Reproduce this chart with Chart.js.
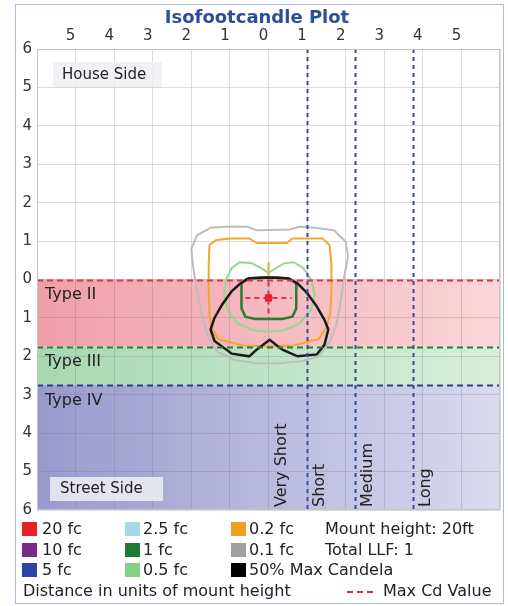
<!DOCTYPE html>
<html>
<head>
<meta charset="utf-8">
<title>Isofootcandle Plot</title>
<script src="https://cdn.jsdelivr.net/npm/chart.js@4/dist/chart.umd.min.js"></script>
<style>
  html, body { margin: 0; padding: 0; background: #fff; }
  #wrap { width: 508px; height: 606px; }
</style>
</head>
<body>
<div id="wrap"><canvas id="isoChart" width="508" height="606"></canvas></div>
<script>
// axis ticks, in mounting heights (house side negative, street side positive)
const tickValues = [-6, -5, -4, -3, -2, -1, 0, 1, 2, 3, 4, 5, 6];

// isofootcandle contours [x, y]
const fc01 = [[-0.3,-1.28],[-0.55,-1.37],[-1.0,-1.38],[-1.5,-1.35],[-1.85,-1.15],[-2.0,-0.8],[-1.95,-0.3],[-1.87,0.2],[-1.75,0.8],[-1.65,1.2],[-1.55,1.55],[-1.3,1.9],[-0.85,2.1],[-0.3,2.18],[0.3,2.18],[0.9,2.12],[1.3,2.0],[1.6,1.6],[1.75,1.2],[1.85,0.7],[1.95,0.0],[2.06,-0.6],[2.0,-0.98],[1.7,-1.28],[1.2,-1.35],[0.8,-1.37],[0.55,-1.3],[-0.3,-1.28]];
const fc02 = [[-0.3,-0.95],[-0.5,-1.07],[-1.0,-1.07],[-1.35,-1.03],[-1.53,-0.9],[-1.55,-0.4],[-1.55,0.3],[-1.53,0.9],[-1.48,1.25],[-1.3,1.55],[-0.65,1.72],[0,1.74],[0.65,1.72],[1.3,1.55],[1.5,1.25],[1.6,0.9],[1.63,0.3],[1.63,-0.4],[1.58,-0.9],[1.4,-1.07],[0.62,-1.07],[0.47,-0.95],[-0.3,-0.95]];
const fc05 = [[0,-0.17],[-0.2,-0.3],[-0.45,-0.43],[-0.75,-0.45],[-0.95,-0.3],[-1.1,0.0],[-1.15,0.4],[-1.05,0.8],[-0.8,1.15],[-0.4,1.32],[0,1.36],[0.4,1.32],[0.8,1.15],[1.1,0.8],[1.2,0.4],[1.1,0.0],[0.9,-0.3],[0.65,-0.45],[0.4,-0.42],[0.2,-0.3],[0,-0.17]];
const fc1 = [[-0.7,0.1],[-0.55,-0.02],[-0.2,-0.05],[0.2,-0.05],[0.55,-0.02],[0.72,0.1],[0.72,0.75],[0.62,0.97],[0.35,1.03],[-0.35,1.03],[-0.6,0.97],[-0.7,0.75],[-0.7,0.1]];
const fc25 = [[-0.04,0.2],[-0.04,0.35]];
const fc02Stem = [[0,-0.45],[0,0]];
const halfMaxCd = [[0,-0.05],[0.5,-0.03],[0.75,0.1],[1.0,0.35],[1.25,0.7],[1.45,1.05],[1.55,1.3],[1.45,1.7],[1.25,1.95],[0.75,2.0],[0.35,1.82],[0.03,1.57],[-0.3,1.82],[-0.5,2.0],[-0.95,1.93],[-1.4,1.6],[-1.5,1.3],[-1.4,1.0],[-1.2,0.65],[-0.95,0.3],[-0.7,0.08],[-0.5,-0.03],[0,-0.05]];

// max candela location
const maxCdPoint = [[0, 0.48]];
const maxCdH = [[-0.6,0.48],[0.6,0.48]];
const maxCdV = [[0,0.05],[0,1.0]];

// lateral types (street side bands)
const typeNames = ['Type II', 'Type III', 'Type IV'];
const typeFrom = [0, 1.75, 2.75];
const typeTo = [1.75, 2.75, 6];

// throw classes
const throwBounds = [1.0, 2.25, 3.75];
const throwNames = ['Very Short', 'Short', 'Medium', 'Long'];
const throwLabelAt = [0, 1.0, 2.25, 3.75];

// legend
const legendNames = ['20 fc', '10 fc', '5 fc', '2.5 fc', '1 fc', '0.5 fc', '0.2 fc', '0.1 fc', '50% Max Candela'];
const legendColors = ['#e8202a', '#7b2a8a', '#2a44a8', '#a8d8e8', '#1e7a32', '#84d084', '#f0a020', '#a0a0a0', '#000000'];

const FONT = "'DejaVu Sans', sans-serif";
const bandColors = [['#f09ea8', '#fad6d8'], ['#a7d8b0', '#d8efdb'], ['#9999ce', '#dadaef']];
const boundColors = ['#d83a48', '#2a7a3a', '#333d8a'];

const pts = arr => arr.map(p => ({ x: p[0], y: p[1] }));
const line = (arr, color, width, dash) => ({
    data: pts(arr), showLine: true, borderColor: color, borderWidth: width,
    borderDash: dash || [], pointRadius: 0, fill: false, tension: 0
});

const overlay = {
    id: 'overlay',
    beforeDraw(chart) {
        const c = chart.ctx, a = chart.chartArea, ys = chart.scales.y;
        c.save();
        c.fillStyle = '#fff';
        c.fillRect(0, 0, chart.width, chart.height);
        // street side bands
        typeNames.forEach((t, i) => {
            const y1 = ys.getPixelForValue(typeFrom[i]);
            const y2 = ys.getPixelForValue(typeTo[i]);
            const g = c.createLinearGradient(a.left, 0, a.right, 0);
            g.addColorStop(0, bandColors[i][0]);
            g.addColorStop(1, bandColors[i][1]);
            c.fillStyle = g;
            c.fillRect(a.left, y1, a.right - a.left, y2 - y1);
        });
        c.restore();
    },
    afterDatasetsDraw(chart) {
        const c = chart.ctx, a = chart.chartArea, xs = chart.scales.x, ys = chart.scales.y;
        c.save();
        c.lineWidth = 2;
        // type boundaries
        c.setLineDash([6, 4]);
        typeFrom.forEach((v, i) => {
            const y = Math.round(ys.getPixelForValue(v)) + 0.5;
            c.strokeStyle = boundColors[i];
            c.beginPath(); c.moveTo(a.left, y); c.lineTo(a.right, y); c.stroke();
        });
        // throw boundaries
        c.setLineDash([4, 4]);
        c.strokeStyle = '#3a48a4';
        throwBounds.forEach(v => {
            const x = Math.round(xs.getPixelForValue(v)) + 0.5;
            c.beginPath(); c.moveTo(x, a.top); c.lineTo(x, a.bottom); c.stroke();
        });
        c.setLineDash([]);
        // plot border
        c.lineWidth = 1;
        c.strokeStyle = '#c4c4c4';
        c.strokeRect(a.left + 0.5, a.top + 0.5, a.right - a.left - 1, a.bottom - a.top - 1);
        c.restore();
    },
    afterDraw(chart) {
        const c = chart.ctx, xs = chart.scales.x, ys = chart.scales.y;
        c.save();
        c.fillStyle = '#222';
        c.textBaseline = 'middle';

        // side boxes
        c.fillStyle = 'rgba(240,240,244,0.85)';
        c.fillRect(53, 62, 109, 25);
        c.fillRect(50, 477, 113, 24);
        c.fillStyle = '#222';
        c.font = '15px ' + FONT;
        c.fillText('House Side', 62, 75);
        c.fillText('Street Side', 60, 489);

        // type labels
        c.font = '16px ' + FONT;
        const typeLabelY = [0.4, 2.15, 3.15];
        typeNames.forEach((t, i) => c.fillText(t, 45, ys.getPixelForValue(typeLabelY[i])));

        // throw labels, rotated
        c.textBaseline = 'top';
        throwNames.forEach((t, i) => {
            c.save();
            c.translate(xs.getPixelForValue(throwLabelAt[i]) + 5, 507);
            c.rotate(-Math.PI / 2);
            c.fillText(t, 0, 0);
            c.restore();
        });

        // title
        c.textBaseline = 'middle';
        c.textAlign = 'center';
        c.fillStyle = '#2d4d9d';
        c.font = 'bold 18px ' + FONT;
        c.fillText('Isofootcandle Plot', 257, 18);
        c.textAlign = 'left';

        // legend
        const rowY = [529, 550, 570];
        const sqX = [22, 125, 231];
        const txX = [42, 143, 249];
        c.font = '16px ' + FONT;
        legendNames.forEach((n, i) => {
            const col = Math.floor(i / 3), row = i % 3;
            c.fillStyle = legendColors[i];
            c.fillRect(sqX[col], rowY[row] - 7, 15, 14);
            c.fillStyle = '#222';
            c.fillText(n, txX[col], rowY[row] + 1);
        });
        c.fillText('Mount height: 20ft', 325, rowY[0] + 1);
        c.fillText('Total LLF: 1', 325, rowY[1] + 1);
        c.fillText('Distance in units of mount height', 23, 592);
        c.fillText('Max Cd Value', 383, 592);
        c.strokeStyle = '#d8303a';
        c.lineWidth = 2;
        c.setLineDash([6, 4]);
        c.beginPath(); c.moveTo(347, 592); c.lineTo(375, 592); c.stroke();
        c.setLineDash([]);

        // outer frame
        c.lineWidth = 1;
        c.strokeStyle = '#a9bcd8';
        c.strokeRect(15.5, 4.5, 488, 599);
        c.restore();
    }
};

const gridColor = 'rgba(110,110,110,0.24)';
const tickFont = { family: FONT, size: 15 };

new Chart(document.getElementById('isoChart'), {
    type: 'scatter',
    data: {
        datasets: [
            { data: pts(maxCdPoint), pointStyle: 'rect', pointRadius: 4.5, backgroundColor: '#e8202a', borderColor: '#e8202a', showLine: false },
            line(maxCdH, '#e8303a', 2, [5, 4]),
            line(maxCdV, '#e8303a', 2, [5, 4]),
            line(halfMaxCd, '#1a1a1a', 2.5),
            line(fc25, legendColors[3], 2),
            line(fc1, '#2a7a30', 2.5),
            line(fc05, '#92d892', 2),
            line(fc02Stem, '#f0a830', 2),
            line(fc02, '#f0a830', 2),
            line(fc01, '#bdbdbd', 2)
        ]
    },
    options: {
        responsive: false,
        animation: false,
        devicePixelRatio: 1,
        layout: { padding: { top: 27, left: 15, right: 8, bottom: 96 } },
        plugins: { legend: { display: false }, title: { display: false }, tooltip: { enabled: false } },
        scales: {
            x: {
                type: 'linear', position: 'top', min: -6, max: 6,
                afterBuildTicks: s => { s.ticks = tickValues.map(v => ({ value: v })); },
                afterFit: s => { s.height = 22; },
                grid: { color: gridColor, drawTicks: false },
                border: { color: '#c4c4c4' },
                ticks: {
                    padding: 4, labelOffset: -5, color: '#333', font: tickFont,
                    maxRotation: 0, autoSkip: false,
                    callback: v => Math.abs(v) === 6 ? '' : Math.abs(v)
                }
            },
            y: {
                type: 'linear', min: -6, max: 6, reverse: true,
                afterBuildTicks: s => { s.ticks = tickValues.map(v => ({ value: v })); },
                afterFit: s => { s.width = 22; },
                grid: { color: gridColor, drawTicks: false },
                border: { color: '#c4c4c4' },
                ticks: {
                    padding: 5, color: '#333', font: tickFont, autoSkip: false,
                    callback: v => Math.abs(v)
                }
            }
        }
    },
    plugins: [overlay]
});
</script>
</body>
</html>
